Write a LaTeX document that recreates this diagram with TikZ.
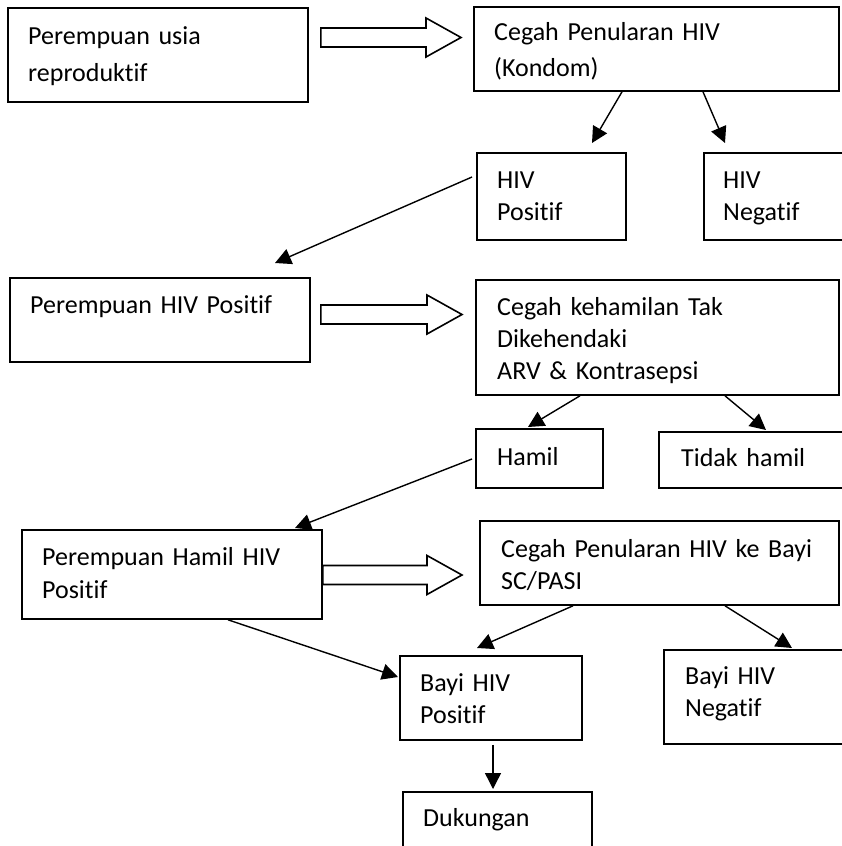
\documentclass[tikz,border=0pt]{standalone}
\usepackage{fontspec}
\setmainfont{Carlito}[Ligatures=NoCommon]
\usetikzlibrary{arrows.meta,calc}

\tikzset{
    box/.style={draw, line width=1.8pt, anchor=north west, inner sep=0pt},
    txt/.style={anchor=base west, inner sep=0pt, text width=340pt, align=left,
        font=\fontsize{26}{32}\selectfont},
    arr/.style={line width=1.4pt, -{Triangle[length=16pt,width=16pt]}},
    hollow/.style={draw, line width=1.6pt, line join=miter},
}

\begin{document}
\begin{tikzpicture}[x=1pt,y=-1pt]
    \useasboundingbox (0,0) rectangle (841,846);
    % boxes
    \node[box, minimum width=300, minimum height=94] (usia) at (7,7) {};
    \node[box, minimum width=365, minimum height=84] (kondom) at (473,6) {};
    \node[box, minimum width=149, minimum height=87] (hivpos) at (476,152) {};
    \node[box, minimum width=160, minimum height=87] (hivneg) at (703,152) {};
    \node[box, minimum width=300, minimum height=84] (wanita) at (9,277) {};
    \node[box, minimum width=363, minimum height=115] (kontra) at (475,279) {};
    \node[box, minimum width=127, minimum height=59] (hamil) at (475,428) {};
    \node[box, minimum width=200, minimum height=56] (tidak) at (658,431) {};
    \node[box, minimum width=300, minimum height=89] (hamilpos) at (21,529) {};
    \node[box, minimum width=359, minimum height=84] (bayi) at (479,520) {};
    \node[box, minimum width=182, minimum height=84] (bayipos) at (399,655) {};
    \node[box, minimum width=200, minimum height=94] (bayineg) at (663,649) {};
    \node[box, minimum width=189, minimum height=80] (dukungan) at (402,791) {};
    % texts
    \node[txt, font=\fontsize{26}{37}\selectfont] (usia-t) at (28,44) {Perempuan usia\\reproduktif};
    \node[txt, font=\fontsize{26}{36}\selectfont] (kondom-t) at (494,40) {Cegah Penularan HIV\\(Kondom)};
    \node[txt] (hivpos-t) at (497,188) {HIV\\Positif};
    \node[txt] (hivneg-t) at (723,188) {HIV\\Negatif};
    \node[txt] (wanita-t) at (30,313) {Perempuan HIV Positif};
    \node[txt] (kontra-t) at (497,315) {Cegah kehamilan Tak\\Dikehendaki\\ARV \& Kontrasepsi};
    \node[txt] (hamil-t) at (497,465) {Hamil};
    \node[txt] (tidak-t) at (681,466) {Tidak hamil};
    \node[txt, font=\fontsize{26}{33}\selectfont] (hamilpos-t) at (42,565) {Perempuan Hamil HIV\\Positif};
    \node[txt] (bayi-t) at (501,557) {Cegah Penularan HIV ke Bayi\\SC/PASI};
    \node[txt] (bayipos-t) at (420,691) {Bayi HIV\\Positif};
    \node[txt] (bayineg-t) at (685,684) {Bayi HIV\\Negatif};
    \node[txt] (dukungan-t) at (423,826) {Dukungan};
    % block arrows
    \foreach \a/\b/\y/\g/\h in {usia/kondom/37.5/12/12, wanita/kontra/314.5/10/13, hamilpos/bayi/575/0/17} {
        \coordinate (s) at ([xshift=\g pt]\a.east |- 0,\y);
        \coordinate (t) at ([xshift=-\h pt]\b.west |- 0,\y);
        \draw[hollow] (s) ++(0,-9.5) -| ($(t)+(-35,-19.5)$) -- (t)
            -- ($(t)+(-35,19.5)$) |- ($(s)+(0,9.5)$) -- cycle;
    }
    % arrows
    \draw[arr] ([shift={(149,0)}]kondom.south west) -- ([shift={(116,-9)}]hivpos.north west);
    \draw[arr] ([shift={(230,0)}]kondom.south west) -- ([shift={(22,-9)}]hivneg.north west);
    \draw[arr] ([shift={(-4,25)}]hivpos.north west) -- ([shift={(266,-14)}]wanita.north west);
    \draw[arr] ([shift={(105,0)}]kontra.south west) -- ([shift={(53,-1)}]hamil.north west);
    \draw[arr] ([shift={(250,0)}]kontra.south west) -- ([shift={(108,-1)}]tidak.north west);
    \draw[arr] ([shift={(-3,31)}]hamil.north west) -- ([shift={(274,-1)}]hamilpos.north west);
    \draw[arr] ([shift={(207,0)}]hamilpos.south west) -- ([shift={(-1,22)}]bayipos.north west);
    \draw[arr] ([shift={(94,0)}]bayi.south west) -- ([shift={(78,-7)}]bayipos.north west);
    \draw[arr] ([shift={(246,0)}]bayi.south west) -- ([shift={(129,-1)}]bayineg.north west);
    \draw[arr] ([shift={(94,4)}]bayipos.south west) -- ([shift={(91,-2)}]dukungan.north west);
\end{tikzpicture}
\end{document}
